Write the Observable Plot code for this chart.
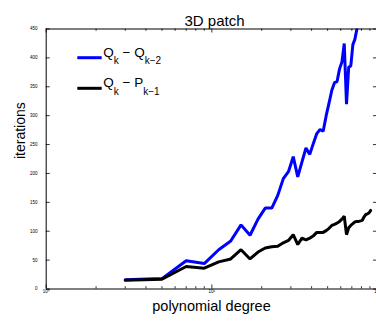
<!DOCTYPE html>
<html><head><meta charset="utf-8">
<script src="https://cdn.jsdelivr.net/npm/d3@7"></script>
<script src="https://cdn.jsdelivr.net/npm/@observablehq/plot@0.6"></script>
<style>body{margin:0;background:#fff}svg{display:block}</style>
</head><body><div id="chart"></div>
<script>
// polynomial degrees (odd)
const degrees = [3,5,7,9,11,13,15,17,19,21,23,25,27,29,31,33,35,37,39,41,43,45,47,49,51,53,55,57,59,61,63,65,67,69,71,73,75,77,79,81,83,85,87,89,91];
// Q_k - Q_{k-2}
const blueValues = [16,18,49,44,68,83,111,93,121,140,140,162,191,203,229,194,220,244,233,252,269,276,273,300,322,344,357,359,381,393,425,320,384,386,423,432,449,470];
// Q_k - P_{k-1}
const blackValues = [15,17,39,36,47,52,68,52,64,71,73,74,80,84,94,77,88,85,88,92,98,98,98,101,105,110,112,114,117,121,126,94,106,110,113,116,117,117,118,119,125,129,130,132,136];
const seriesNames = ["Q_k - Q_{k-2}", "Q_k - P_{k-1}"];
const seriesColors = ["#0000ff", "#000000"];
const legendParts = [["Q","k"," \u2212 Q","k\u22122"],["Q","k"," \u2212 P","k\u22121"]];
const yTicks = [0,50,100,150,200,250,300,350,400,450];
const xTicks = [1,10,100];
const xTickLabels = ["10\u2070","10\u00b9","10\u00b2"];
const xMinor = [2,3,4,5,6,7,8,9,20,30,40,50,60,70,80,90];
const titleText = "3D patch";
const xLabel = "polynomial degree";
const yLabel = "iterations";

const blueRows = blueValues.map((v,i)=>({d:degrees[i], v}));
const blackRows = blackValues.map((v,i)=>({d:degrees[i], v}));

const font = "'Liberation Sans', Arial, Helvetica, sans-serif";
const xIn = 1.058; // ~4px inward on log axis

const plot = Plot.plot({
  width: 376, height: 322,
  marginLeft: 46, marginRight: 0, marginTop: 28.5, marginBottom: 33.5,
  style: {fontFamily: font, background: "#fff", color: "#000", overflow: "visible"},
  x: {type: "log", domain: [1,100], range: [45.7, 377], axis: null},
  y: {domain: [0,450], range: [288.5, 28.5], axis: null},
  marks: [
    Plot.line(blueRows, {x:"d", y:"v", stroke: seriesColors[0], strokeWidth: 3, clip: true, strokeLinejoin: "miter"}),
    Plot.line(blackRows, {x:"d", y:"v", stroke: seriesColors[1], strokeWidth: 3, clip: true, strokeLinejoin: "miter"}),
    Plot.ruleY([0,450], {stroke:"#000", strokeWidth: 1}),
    Plot.ruleX([1,100], {stroke:"#000", strokeWidth: 1}),
    Plot.ruleY(yTicks, {x1: 1, x2: xIn, stroke:"#000", strokeWidth: 0.8}),
    Plot.ruleY(yTicks, {x1: 100/xIn, x2: 100, stroke:"#000", strokeWidth: 0.8}),
    Plot.ruleX(xTicks, {y1: 0, y2: 7, stroke:"#000", strokeWidth: 0.8}),
    Plot.ruleX(xTicks, {y1: 443, y2: 450, stroke:"#000", strokeWidth: 0.8}),
    Plot.ruleX(xMinor, {y1: 0, y2: 4, stroke:"#000", strokeWidth: 0.8}),
    Plot.ruleX(xMinor, {y1: 446, y2: 450, stroke:"#000", strokeWidth: 0.8}),
    Plot.axisY(yTicks, {tickSize: 0, tickPadding: 9, fontSize: 4.5, label: null}),
    Plot.axisX(xTicks, {tickSize: 0, tickPadding: 1, fontSize: 4.5, label: null, tickFormat: (d)=>xTickLabels[xTicks.indexOf(d)]}),
    Plot.text([titleText], {frameAnchor: "top", dy: -13.5, dx: 3, fontSize: 15, text: d=>d}),
    Plot.text([xLabel], {frameAnchor: "bottom", dy: 21.5, fontSize: 14.5, text: d=>d}),
    Plot.text([yLabel], {frameAnchor: "left", dx: -26, rotate: -90, fontSize: 14, text: d=>d})
  ]
});
document.getElementById("chart").append(plot);

// legend (no box), drawn inside the svg
const svg = d3.select(plot);
const legY = [57.7, 88.3];
const g = svg.append("g").attr("font-family", font).attr("fill", "#000").attr("text-anchor", "start");
legendParts.forEach((parts, i) => {
  g.append("line").attr("x1", 77.3).attr("x2", 101.7).attr("y1", legY[i]).attr("y2", legY[i])
    .attr("stroke", seriesColors[i]).attr("stroke-width", 3);
  const t = g.append("text").attr("x", 103.3).attr("y", legY[i] - 1).attr("font-size", 13.5).attr("text-anchor", "start");
  t.append("tspan").text(parts[0]);
  t.append("tspan").attr("font-size", 10).attr("dy", 7.5).text(parts[1]);
  t.append("tspan").attr("dy", -7.5).text(parts[2]);
  t.append("tspan").attr("font-size", 10).attr("dy", 7.5).text(parts[3]);
});
</script>
</body></html>
